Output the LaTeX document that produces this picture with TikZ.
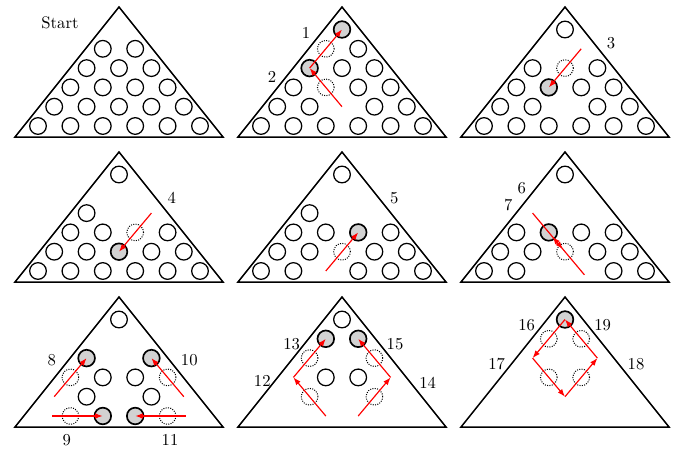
\documentclass[tikz,border=0pt]{standalone}
\usetikzlibrary{arrows.meta}
\begin{document}
\begin{tikzpicture}[x=0.6pt,y=-0.6pt,
  board/.style={line width=0.9pt, line join=miter},
  peg/.style={circle, draw, line width=0.75pt, minimum size=10pt, inner sep=0pt},
  moved/.style={peg, fill=gray!35, line width=1pt},
  gone/.style={peg, line width=0.6pt, dash pattern=on 0.6pt off 0.8pt},
  jump/.style={red, line width=0.7pt, -{Latex[length=4.6pt,width=3.4pt]}},
  lbl/.style={inner sep=0pt, font=\normalsize}]
\useasboundingbox (0,0) rectangle (676,448);
% boards and hole coordinates
\foreach \b/\ax/\ay in {1/119/7, 2/342/7, 3/565/7, 4/119/152, 5/342/152, 6/565/152, 7/119/297, 8/342/297, 9/565/297}{
  \coordinate (A\b) at (\ax,\ay);
  \foreach \r in {1,...,6}{
    \foreach \k in {1,...,\r}{
      \coordinate (h\b-\r-\k) at ({\ax+(\k-1-(\r-1)/2)*32.4},{\ay+22.5+(\r-1)*19.3});
    }
  }
  \draw[board] (A\b) -- ++(-104,130) -- ++(208,0) -- cycle;
}
% board 1
\foreach \r/\k in {2/1,2/2,3/1,3/2,3/3,4/1,4/2,4/3,4/4,5/1,5/2,5/3,5/4,5/5,6/1,6/2,6/3,6/4,6/5,6/6}
  \node[peg] (p1-\r-\k) at (h1-\r-\k) {};
% board 2
\foreach \r/\k in {2/2,3/2,3/3,4/1,4/3,4/4,5/1,5/2,5/4,5/5,6/1,6/2,6/3,6/4,6/5,6/6}
  \node[peg] (p2-\r-\k) at (h2-\r-\k) {};
\foreach \r/\k in {1/1,3/1} \node[moved] (p2-\r-\k) at (h2-\r-\k) {};
\foreach \r/\k in {2/1,4/2} \node[gone] (p2-\r-\k) at (h2-\r-\k) {};
% board 3
\foreach \r/\k in {1/1,3/1,3/3,4/1,4/3,4/4,5/1,5/2,5/4,5/5,6/1,6/2,6/3,6/4,6/5,6/6}
  \node[peg] (p3-\r-\k) at (h3-\r-\k) {};
\node[moved] (p3-4-2) at (h3-4-2) {};
\node[gone] (p3-3-2) at (h3-3-2) {};
% board 4
\foreach \r/\k in {1/1,3/1,4/1,4/2,4/4,5/1,5/2,5/4,5/5,6/1,6/2,6/3,6/4,6/5,6/6}
  \node[peg] (p4-\r-\k) at (h4-\r-\k) {};
\node[moved] (p4-5-3) at (h4-5-3) {};
\node[gone] (p4-4-3) at (h4-4-3) {};
% board 5
\foreach \r/\k in {1/1,3/1,4/1,4/2,4/4,5/1,5/2,5/4,5/5,6/1,6/2,6/4,6/5,6/6}
  \node[peg] (p5-\r-\k) at (h5-\r-\k) {};
\node[moved] (p5-4-3) at (h5-4-3) {};
\node[gone] (p5-5-3) at (h5-5-3) {};
% board 6
\foreach \r/\k in {1/1,4/1,4/3,4/4,5/1,5/2,5/4,5/5,6/1,6/2,6/5,6/6}
  \node[peg] (p6-\r-\k) at (h6-\r-\k) {};
\node[moved] (p6-4-2) at (h6-4-2) {};
\node[gone] (p6-5-3) at (h6-5-3) {};
% board 7
\foreach \r/\k in {1/1,4/2,4/3,5/2,5/4}
  \node[peg] (p7-\r-\k) at (h7-\r-\k) {};
\foreach \r/\k in {3/1,3/3,6/3,6/4} \node[moved] (p7-\r-\k) at (h7-\r-\k) {};
\foreach \r/\k in {4/1,4/4,6/2,6/5} \node[gone] (p7-\r-\k) at (h7-\r-\k) {};
% board 8
\foreach \r/\k in {1/1,4/2,4/3}
  \node[peg] (p8-\r-\k) at (h8-\r-\k) {};
\foreach \r/\k in {2/1,2/2} \node[moved] (p8-\r-\k) at (h8-\r-\k) {};
\foreach \r/\k in {3/1,3/3,5/2,5/4} \node[gone] (p8-\r-\k) at (h8-\r-\k) {};
% board 9
\node[moved] (p9-1-1) at (h9-1-1) {};
\foreach \r/\k in {2/1,2/2,4/2,4/3} \node[gone] (p9-\r-\k) at (h9-\r-\k) {};
% moves
\draw[jump] (h2-3-1) -- (h2-1-1);
\draw[jump] (h2-5-3) -- (h2-3-1);
\draw[jump] (h3-2-2) -- (h3-4-2);
\draw[jump] (h4-3-3) -- (h4-5-3);
\draw[jump] (h5-6-3) -- (h5-4-3);
\draw[jump, shorten >=2pt] (h6-3-1) -- (h6-5-3);
\draw[jump, shorten <=-3pt, shorten >=3.5pt] (h6-6-4) -- (h6-4-2);
\draw[jump] (h7-5-1) -- (h7-3-1);
\draw[jump, shorten <=8.6pt] (h7-6-1) -- (h7-6-3);
\draw[jump] (h7-5-5) -- (h7-3-3);
\draw[jump, shorten <=8.6pt] (h7-6-6) -- (h7-6-4);
\draw[jump] (h8-6-3) -- (h8-4-1);
\draw[jump] (h8-4-1) -- (h8-2-1);
\draw[jump] (h8-6-4) -- (h8-4-4);
\draw[jump] (h8-4-4) -- (h8-2-2);
\draw[jump] (h9-1-1) -- (h9-3-1);
\draw[jump] (h9-3-1) -- (h9-5-3);
\draw[jump] (h9-5-3) -- (h9-3-3);
\draw[jump] (h9-3-3) -- (h9-1-1);
% labels
\node[lbl] (lStart) at (60,23) {Start};
\node[lbl] (l1) at (306,33) {1};
\node[lbl] (l2) at (272,77) {2};
\node[lbl] (l3) at (611,43) {3};
\node[lbl] (l4) at (171.7,197.7) {4};
\node[lbl] (l5) at (394.3,197.7) {5};
\node[lbl] (l6) at (521.7,188.3) {6};
\node[lbl] (l7) at (508.3,205) {7};
\node[lbl] (l8) at (51.7,360) {8};
\node[lbl] (l9) at (66.7,440) {9};
\node[lbl] (l10) at (189.3,360) {10};
\node[lbl] (l11) at (170,440) {11};
\node[lbl] (l12) at (262.3,381) {12};
\node[lbl] (l13) at (291.7,344.3) {13};
\node[lbl] (l14) at (427.7,383.3) {14};
\node[lbl] (l15) at (395,344.3) {15};
\node[lbl] (l16) at (526.7,325) {16};
\node[lbl] (l17) at (496.7,364.3) {17};
\node[lbl] (l18) at (636,364.3) {18};
\node[lbl] (l19) at (602.7,325) {19};
\end{tikzpicture}
\end{document}
